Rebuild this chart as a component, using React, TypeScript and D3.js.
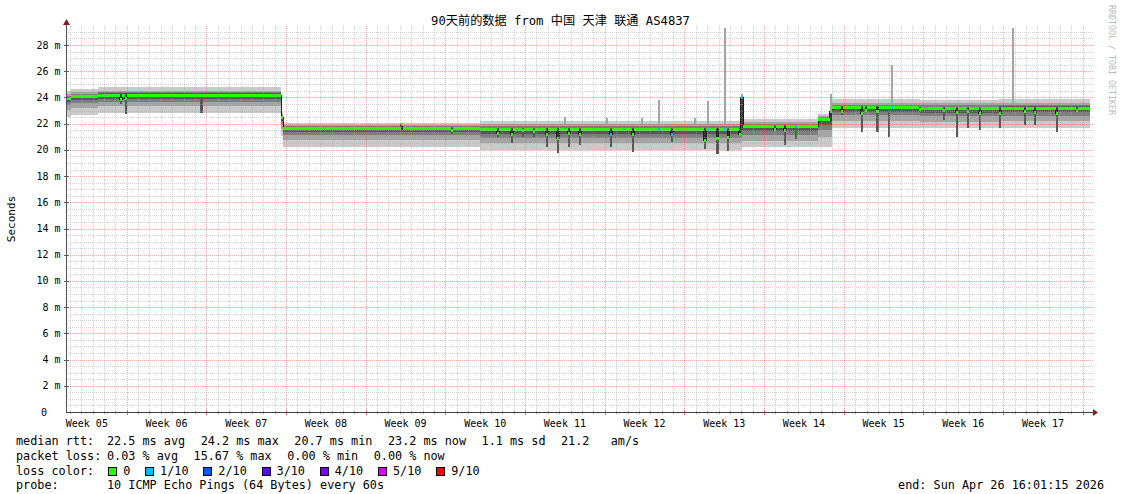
import { useRef, useEffect } from 'react';
import * as d3 from 'd3';

const W = 1121;
const H = 494;
const DAY = 86400000;

// time window: 90 days ending Sun Apr 26 16:01:15 2026
const startMs = Date.UTC(2026, 0, 26, 16, 1, 15);
const endMs = Date.UTC(2026, 3, 26, 16, 1, 15);

const titleText = '90天前的数据 from 中国 天津 联通 AS4837';
const yTicks = [0, 2, 4, 6, 8, 10, 12, 14, 16, 18, 20, 22, 24, 26, 28];
const weekLabels = ['Week 05', 'Week 06', 'Week 07', 'Week 08', 'Week 09', 'Week 10', 'Week 11',
    'Week 12', 'Week 13', 'Week 14', 'Week 15', 'Week 16', 'Week 17'];

// median rtt level (ms) per stretch, days since start
const levelStart = [0, 0.4, 2.8, 18.89, 19.07, 36.4, 59.4, 66.07, 67.3, 75, 82];
const levelMedian = [23.9, 24.05, 24.18, 22.45, 21.62, 21.55, 21.75, 22.3, 23.2, 23.14, 23.17];
const levelSmoke = ['A', 'A', 'A', 'B', 'B', 'C', 'C', 'S', 'D', 'D', 'D'];

// sorted 10 ping offsets from the median (ms) for each stretch
const smokeA = [-1.38, -0.83, -0.5, -0.27, -0.1, 0.05, 0.13, 0.22, 0.33, 0.58];
const smokeB = [-1.38, -0.85, -0.5, -0.25, -0.08, 0.05, 0.12, 0.2, 0.3, 0.45];
const smokeC = [-1.55, -1.05, -0.65, -0.33, -0.1, 0.05, 0.15, 0.25, 0.4, 0.62];
const smokeS = [-2.05, -1.3, -0.8, -0.4, -0.1, 0.05, 0.12, 0.2, 0.3, 0.4];
const smokeD = [-1.5, -1.0, -0.55, -0.3, -0.1, 0.05, 0.14, 0.25, 0.4, 0.68];
const smokeProfiles: Record<string, number[]> = { A: smokeA, B: smokeB, C: smokeC, S: smokeS, D: smokeD };

// short dips: [day, median during dip, lowest ping]
const dips: [number, number | null, number | null][] = [
    [4.83, 23.85, 23.5], [5.27, 23.9, 22.7], [11.9, null, 22.8],
    [29.5, 21.9, null], [33.9, 21.45, 21.2], [37.96, 21.26, 21.0], [39.19, 21.2, 20.5],
    [40.15, 21.45, 21.0], [41.12, 21.4, 21.0], [42.26, 21.2, 20.24], [43.23, 20.85, 19.76],
    [44.2, 21.25, 20.24], [45.17, 21.15, 20.4], [47.89, 21.2, 20.24], [49.82, 21.15, 19.85],
    [53.25, 21.2, 20.6], [56.15, 20.75, 20.1], [57.25, 20.9, 19.7], [58.19, 20.95, 19.9],
    [59.2, 21.2, null], [59.4, 24.0, null], [62.3, 21.55, null], [63.18, 21.45, 20.4],
    [64.15, 21.75, 20.85], [67.2, 22.9, null], [68.18, 22.94, 22.66], [69.92, 22.8, 21.4],
    [70.3, 23.0, null], [71.29, 22.93, 21.4], [72.31, null, 21.0], [75.04, 23.05, null],
    [77.15, 22.97, 22.3], [78.27, 22.85, 21.0], [79.26, 22.93, 21.7], [80.31, 22.8, 21.5],
    [82.07, 22.8, 21.7], [84.26, 22.93, 21.9], [85.14, 22.85, 21.9], [87.05, 22.8, 21.4],
    [88.8, 23.0, null],
];

// upward spikes of the slowest pings: [day, max ping]
const spikes: [number, number][] = [
    [43.85, 22.5], [47.5, 22.45], [50.6, 22.4], [52.1, 23.8], [55.3, 22.45],
    [56.41, 23.7], [57.86, 29.3], [59.4, 24.3], [67.17, 24.3], [72.61, 26.5], [83.24, 29.3],
];

// samples with packet loss: [day, lost pings of 10]
const lossMarks: [number, number][] = [
    [47.89, 1], [52.1, 1], [53.25, 1], [56.41, 1], [57.86, 1], [59.4, 1], [64.15, 1], [72.61, 1], [83.24, 1],
];

const lossColors = ['#26ff00', '#00b8ff', '#0059ff', '#5e00ff', '#7e00ff', '#dd00ff', '#ff0000'];
const lossLabels = ['0', '1/10', '2/10', '3/10', '4/10', '5/10', '9/10'];
const lossSteps = [0, 1, 2, 3, 4, 5, 9];

const rttStats = ['22.5 ms avg', '24.2 ms max', '20.7 ms min', '23.2 ms now', '1.1 ms sd', '21.2   am/s'];
const lossStats = ['0.03 % avg', '15.67 % max', '0.00 % min', '0.00 % now'];
const probeText = '10 ICMP Echo Pings (64 Bytes) every 60s';
const endText = 'end: Sun Apr 26 16:01:15 2026';

const smokeShades = ['#cacaca', '#a4a4a4', '#7e7e7e', '#585858', '#323232'];

const DIP_W = 0.2;
const SPIKE_W = 0.18;
const LOSS_W = 0.14;

interface Col { from: number; to: number; median: number; loss: number; pings: number[] }

function buildColumns(): Col[] {
    const cuts = new Set<number>([0, 90, ...levelStart]);
    dips.forEach(([d]) => { cuts.add(d - DIP_W / 2); cuts.add(d + DIP_W / 2); });
    spikes.forEach(([d]) => { cuts.add(d - SPIKE_W / 2); cuts.add(d + SPIKE_W / 2); });
    lossMarks.forEach(([d]) => { cuts.add(d - LOSS_W / 2); cuts.add(d + LOSS_W / 2); });
    const edges = Array.from(cuts).filter(d => d >= 0 && d <= 90).sort((a, b) => a - b);
    const cols: Col[] = [];
    for (let i = 0; i < edges.length - 1; i++) {
        const a = edges[i], b = edges[i + 1];
        if (b - a < 1e-6) continue;
        const mid = (a + b) / 2;
        const li = Math.max(0, d3.bisectRight(levelStart, mid) - 1);
        const base = levelMedian[li];
        const pings = smokeProfiles[levelSmoke[li]].map(o => base + o);
        let median = base;
        let loss = 0;
        for (const [d, m, low] of dips) {
            if (Math.abs(mid - d) >= DIP_W / 2) continue;
            if (m != null) median = m;
            if (low != null) for (let k = 0; k < 4; k++) pings[k] = Math.min(pings[k], low);
            pings[4] = Math.min(pings[4], median);
            pings[5] = Math.max(pings[5], median);
        }
        for (const [d, hi] of spikes) {
            if (Math.abs(mid - d) >= SPIKE_W / 2) continue;
            pings[8] = Math.max(pings[8], hi);
            pings[9] = Math.max(pings[9], hi);
        }
        for (const [d, l] of lossMarks) {
            if (Math.abs(mid - d) < LOSS_W / 2) loss = l;
        }
        cols.push({ from: a, to: b, median, loss, pings });
    }
    return cols;
}

function lossColor(l: number) {
    let idx = 0;
    lossSteps.forEach((s, i) => { if (l >= s) idx = i; });
    return lossColors[idx];
}

// keep runs of spaces in svg text
const keep = (s: string) => s.replace(/ /g, '\u00a0');

export default function App() {
    const svgRef = useRef<SVGSVGElement>(null);

    useEffect(() => {
        if (!svgRef.current) return;
        const svg = d3.select(svgRef.current);
        svg.selectAll('*').remove();

        const mono = '"DejaVu Sans Mono", "Noto Sans CJK SC", monospace';
        const left = 66, right = 1090.4, bottom = 412, top = 26;

        const x = d3.scaleUtc().domain([new Date(startMs), new Date(endMs)]).range([left, right]);
        const xd = (d: number) => x(new Date(startMs + d * DAY));
        const y = d3.scaleLinear().domain([0, 29.45]).range([bottom, top]);
        const px = (v: number) => Math.round(v) + 0.5;

        svg.append('rect').attr('width', W).attr('height', H).attr('fill', '#ffffff');

        // smoke
        const cols = buildColumns();
        const last = cols[cols.length - 1];
        const pts = [...cols, { ...last, from: last.to }];
        const plot = svg.append('g');
        smokeShades.forEach((c, i) => {
            const area = d3.area<Col>()
                .x(d => xd(d.from))
                .y0(d => y(d.pings[i]))
                .y1(d => y(d.pings[9 - i]))
                .curve(d3.curveStepAfter);
            plot.append('path').attr('d', area(pts) ?? '').attr('fill', c).attr('shape-rendering', 'crispEdges');
        });

        // median line
        const line = d3.line<Col>().x(d => xd(d.from)).y(d => y(d.median)).curve(d3.curveStepAfter);
        plot.append('path').attr('d', line(pts) ?? '').attr('fill', 'none')
            .attr('stroke', '#202020').attr('stroke-width', 1).attr('shape-rendering', 'crispEdges');

        // loss coloured median band
        plot.selectAll('rect.med')
            .data(cols)
            .enter()
            .append('rect')
            .attr('class', 'med')
            .attr('x', d => xd(d.from))
            .attr('width', d => xd(d.to) - xd(d.from))
            .attr('y', d => y(d.median) - 1.5)
            .attr('height', 3)
            .attr('fill', d => lossColor(d.loss))
            .attr('shape-rendering', 'crispEdges');

        // grid
        const grid = svg.append('g').attr('shape-rendering', 'crispEdges');
        const minorY = d3.range(0.5, 29.45, 0.5).filter(v => v % 2 !== 0);
        const majorY = yTicks.filter(v => v > 0);
        const days = d3.utcDay.range(new Date(startMs), new Date(endMs)).filter(d => d.getUTCDay() !== 0);
        const weeks = d3.utcSunday.range(new Date(startMs), new Date(endMs));
        const minorStyle = { stroke: '#a8a8a8', opacity: 0.5 };
        const majorStyle = { stroke: '#ff4040', opacity: 0.42 };

        grid.selectAll('line.hmin').data(minorY).enter().append('line')
            .attr('x1', left).attr('x2', 1093).attr('y1', d => px(y(d))).attr('y2', d => px(y(d)))
            .attr('stroke', minorStyle.stroke).attr('opacity', minorStyle.opacity).attr('stroke-dasharray', '1,1');
        grid.selectAll('line.vmin').data(days).enter().append('line')
            .attr('y1', top).attr('y2', bottom).attr('x1', d => px(x(d))).attr('x2', d => px(x(d)))
            .attr('stroke', minorStyle.stroke).attr('opacity', minorStyle.opacity).attr('stroke-dasharray', '1,1');
        grid.selectAll('line.hmaj').data(majorY).enter().append('line')
            .attr('x1', left).attr('x2', 1093).attr('y1', d => px(y(d))).attr('y2', d => px(y(d)))
            .attr('stroke', majorStyle.stroke).attr('opacity', majorStyle.opacity).attr('stroke-dasharray', '1,1');
        grid.selectAll('line.vmaj').data(weeks).enter().append('line')
            .attr('y1', top).attr('y2', bottom).attr('x1', d => px(x(d))).attr('x2', d => px(x(d)))
            .attr('stroke', majorStyle.stroke).attr('opacity', majorStyle.opacity).attr('stroke-dasharray', '1,1');

        // axis ticks
        grid.selectAll('line.ytick').data(majorY).enter().append('line')
            .attr('x1', left - 2).attr('x2', left + 3).attr('y1', d => px(y(d))).attr('y2', d => px(y(d)))
            .attr('stroke', '#606060');
        grid.selectAll('line.xtick').data(weeks).enter().append('line')
            .attr('y1', bottom - 2).attr('y2', bottom + 3).attr('x1', d => px(x(d))).attr('x2', d => px(x(d)))
            .attr('stroke', '#e07070');
        grid.selectAll('line.xdtick').data(days).enter().append('line')
            .attr('y1', bottom - 1).attr('y2', bottom + 2).attr('x1', d => px(x(d))).attr('x2', d => px(x(d)))
            .attr('stroke', '#b0b0b0');

        // axes with arrows
        const axes = svg.append('g').attr('shape-rendering', 'crispEdges');
        axes.append('line').attr('x1', left).attr('x2', 1094).attr('y1', px(bottom)).attr('y2', px(bottom))
            .attr('stroke', '#404040');
        axes.append('line').attr('x1', px(left)).attr('x2', px(left)).attr('y1', bottom).attr('y2', 22)
            .attr('stroke', '#505050');
        svg.append('path').attr('d', `M${1093},${bottom - 3} L${1098},${bottom + 0.5} L${1093},${bottom + 4} Z`)
            .attr('fill', '#8b1a1a');
        svg.append('path').attr('d', `M${left - 3},${25} L${left + 0.5},${19} L${left + 4},${25} Z`)
            .attr('fill', '#8b1a1a');

        // y labels
        const ylab = svg.append('g').attr('font-family', mono).attr('font-size', '10px').attr('fill', '#000');
        ylab.selectAll('text.num').data(yTicks).enter().append('text')
            .attr('x', d => (d === 0 ? 47 : 48.5)).attr('y', d => y(d) + 3.5).attr('text-anchor', 'end')
            .text(d => String(d));
        ylab.selectAll('text.unit').data(yTicks.filter(v => v > 0)).enter().append('text')
            .attr('x', 54.5).attr('y', d => y(d) + 3.5).text('m');

        // week labels
        const firstSunday = d3.utcSunday.floor(new Date(startMs));
        svg.append('g').attr('font-family', mono).attr('font-size', '10px').attr('fill', '#000')
            .selectAll('text').data(weekLabels).enter().append('text')
            .attr('x', (_, i) => x(new Date(firstSunday.getTime() + (i * 7 + 3.5) * DAY)))
            .attr('y', 426.5).attr('text-anchor', 'middle').text(d => d);

        // titles
        svg.append('text').attr('x', 560.5).attr('y', 25).attr('text-anchor', 'middle')
            .attr('font-family', mono).attr('font-size', '12.2px').attr('fill', '#000').text(titleText);
        svg.append('text').attr('transform', 'translate(15,219) rotate(-90)').attr('text-anchor', 'middle')
            .attr('font-family', mono).attr('font-size', '11px').attr('fill', '#000').text('Seconds');
        svg.append('text').attr('transform', 'translate(1108.5,5) rotate(90)')
            .attr('font-family', mono).attr('font-size', '8.3px').attr('fill', '#bbbbbb')
            .text('RRDTOOL / TOBI OETIKER');

        // legend
        const leg = svg.append('g').attr('font-family', mono).attr('font-size', '11.8px').attr('fill', '#000');
        const rows = [444.5, 459.5, 474.5, 489.3];
        const valX = 107;
        const gap = 15.5;
        leg.append('text').attr('x', 16).attr('y', rows[0]).text('median rtt:');
        leg.append('text').attr('x', 16).attr('y', rows[1]).text('packet loss:');
        leg.append('text').attr('x', 16).attr('y', rows[2]).text('loss color:');
        leg.append('text').attr('x', 16).attr('y', rows[3]).text('probe:');

        const seq = (items: string[], row: number) => {
            let cx = valX;
            items.forEach(s => {
                const t = leg.append('text').attr('x', cx).attr('y', row).text(keep(s));
                cx += (t.node() as SVGTextElement).getComputedTextLength() + gap;
            });
        };
        seq(rttStats, rows[0]);
        seq(lossStats, rows[1]);

        let bx = 108.2;
        lossLabels.forEach((lab, i) => {
            leg.append('rect').attr('x', bx + 0.5).attr('y', rows[2] - 7.5).attr('width', 8).attr('height', 8)
                .attr('fill', lossColors[i]).attr('stroke', '#000').attr('stroke-width', 1)
                .attr('shape-rendering', 'crispEdges');
            const t = leg.append('text').attr('x', bx + 15).attr('y', rows[2]).text(lab);
            bx += 15 + (t.node() as SVGTextElement).getComputedTextLength() + 14.8;
        });

        leg.append('text').attr('x', valX).attr('y', rows[3]).text(keep(probeText));
        leg.append('text').attr('x', 1104).attr('y', rows[3]).attr('text-anchor', 'end').text(keep(endText));
    }, []);

    return (
        <svg ref={svgRef} width={W} height={H}
            style={{ position: 'absolute', left: 0, top: 0, display: 'block', background: '#fff' }} />
    );
}
